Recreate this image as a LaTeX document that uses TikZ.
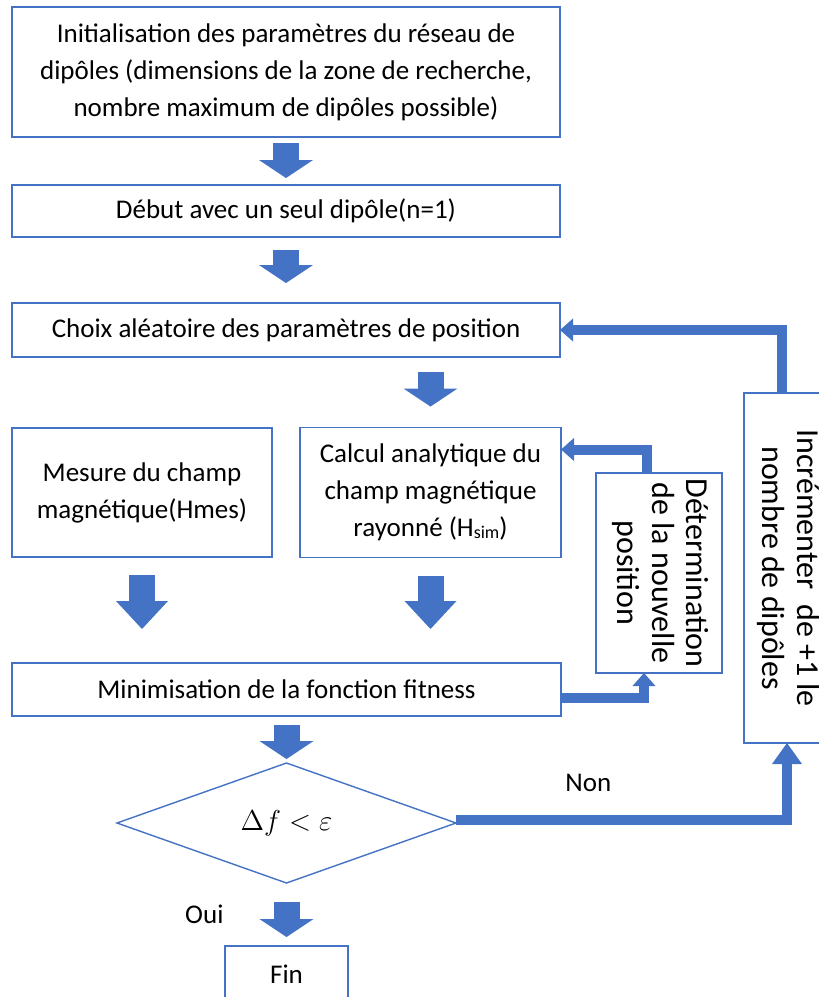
\documentclass[tikz,border=0pt]{standalone}
\usepackage[no-math]{fontspec}
\setmainfont{Carlito}
\usepackage{graphicx}
\usepackage{tikz}
\usetikzlibrary{arrows.meta,positioning,calc,shapes.geometric}
\definecolor{flowblue}{HTML}{4472C4}

\begin{document}
\begin{tikzpicture}[
  x=1pt,y=-1pt,
  font=\fontsize{13.5}{18.5}\selectfont,
  box/.style={draw=flowblue,line width=0.8pt,fill=white,align=center,inner sep=0pt,outer sep=0pt},
  sidebox/.style={box,font=\fontsize{16}{17.2}\selectfont},
  fat/.style={flowblue,line width=13pt,-{Triangle[width=27pt,length=9pt,line width=0pt]}},
  bigfat/.style={flowblue,line width=13pt,-{Triangle[width=26pt,length=14pt,line width=0pt]}},
  retour/.style={flowblue,line width=5pt,-{Triangle[width=11.5pt,length=6.5pt,line width=0pt]}}
]
\useasboundingbox (0,0) rectangle (409.5,498.5);
\clip (0,0) rectangle (409.5,498.5);

\node[box,minimum width=274pt,minimum height=65pt] (init) at (143,36)
  {Initialisation des paramètres du réseau de\\dipôles (dimensions de la zone de recherche,\\nombre maximum de dipôles possible)};
\node[box,minimum width=274pt,minimum height=26pt,below=24pt of init] (debut) {Début avec un seul dipôle(n=1)};
\node[box,minimum width=274pt,minimum height=27pt,below=33pt of debut] (choix) {Choix aléatoire des paramètres de position};
\node[box,minimum width=130pt,minimum height=64.5pt,below=35.5pt of choix.south west,anchor=north west] (mesure)
  {Mesure du champ\\magnétique(Hmes)};
\node[box,minimum width=130.5pt,minimum height=65pt,right=14pt of mesure] (calcul)
  {Calcul analytique du\\champ magnétique\\rayonné (H\raisebox{-1pt}{\fontsize{9}{9}\selectfont sim})};
\node[box,minimum width=274.5pt,minimum height=26.5pt,below=53pt of mesure.south west,anchor=north west] (minim)
  {Minimisation de la fonction fitness};
\node[sidebox,minimum width=63pt,minimum height=100pt] (deter) at (329.5,286.5)
  {\rotatebox{-90}{\begin{tabular}{@{}c@{}}Détermination\\de la nouvelle\\position\end{tabular}}};
\node[sidebox,minimum width=43pt,minimum height=175pt] (incr) at (393.5,284)
  {\rotatebox{-90}{\begin{tabular}{@{}c@{}}Incrémenter~~de +1 le\\nombre de dipôles\end{tabular}}};
\node[diamond,draw=flowblue,line width=0.7pt,minimum width=169.5pt,minimum height=60pt,inner sep=0pt,outer sep=0pt,below=23.5pt of minim] (test)
  {$\Delta f<\varepsilon$};
\node[box,minimum width=61.5pt,minimum height=28pt,below=31.5pt of test] (fin) {Fin};

% main column
\draw[fat,shorten <=3pt,shorten >=3.5pt] (init) -- (debut);
\draw[fat,shorten <=6.5pt,shorten >=10pt] (debut) -- (choix);
\draw[fat,shorten <=7.5pt,shorten >=10.5pt] (choix.south -| calcul) -- (calcul);
\draw[bigfat,shorten <=9pt,shorten >=17pt] (mesure) -- (mesure |- minim.north);
\draw[bigfat,shorten <=9pt,shorten >=17pt] (calcul) -- (calcul |- minim.north);
\draw[fat,shorten <=4.5pt,shorten >=2pt] (minim) -- (test);
\draw[fat,shorten <=9.5pt,shorten >=4.5pt] (test) -- (fin)
  node[midway,left=25pt,inner sep=0pt,text=black] (oui) {Oui};

% loops back
\draw[retour] ([yshift=-4pt]minim.east) -| ([xshift=-7.5pt]deter.south);
\draw[retour] ([xshift=-6pt]deter.north) |- ([yshift=21.5pt]calcul.east);
\draw[retour,-{Triangle[width=15pt,length=10.5pt,line width=0pt]}] ([yshift=1.5pt]test.east) -| (incr.south)
  node[pos=0.2,above=11.5pt,inner sep=0pt,text=black] (non) {Non};
\draw[retour] ([xshift=-2.5pt]incr.north) |- (choix.east);
\end{tikzpicture}
\end{document}
